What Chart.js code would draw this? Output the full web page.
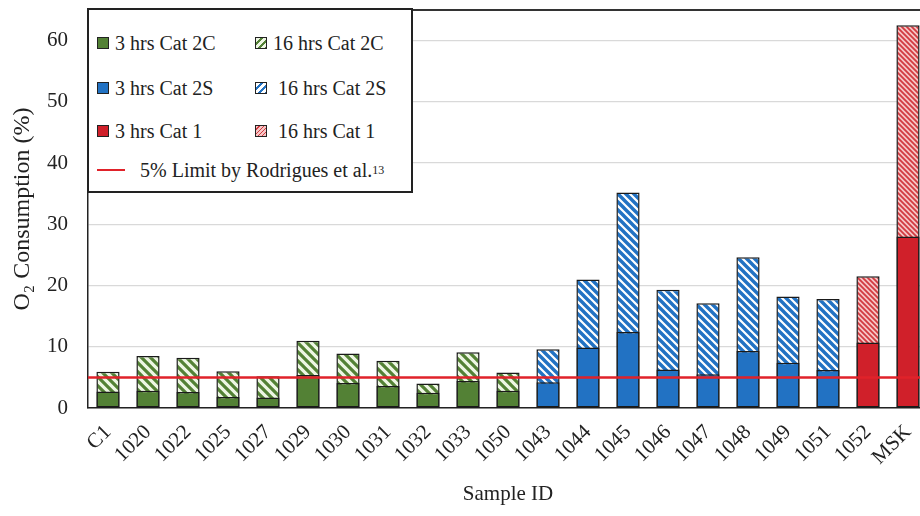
<!DOCTYPE html>
<html>
<head>
<meta charset="utf-8">
<script src="https://cdn.jsdelivr.net/npm/chart.js@4.4.1/dist/chart.umd.min.js"></script>
<style>
    html, body { margin: 0; padding: 0; background: #fff; overflow: hidden; }
    #wrap { position: relative; width: 930px; height: 516px; }
    #legend {
        position: absolute; left: 87px; top: 8px; width: 322px; height: 181px;
        border: 2px solid #222; background: #fff;
        font-family: "Liberation Serif", serif; font-size: 20px; color: #222;
    }
    .item { position: absolute; display: flex; align-items: center; white-space: nowrap; height: 24px; }
    .sw { width: 10px; height: 10px; border: 1.5px solid #222; margin-right: 6px; }
    .line { width: 28px; height: 2.5px; background: #e0222a; margin-right: 15px; }
    sup { font-size: 12px; vertical-align: 7px; }
</style>
</head>
<body>
<div id="wrap">
    <canvas id="chart"></canvas>
    <div id="legend">
        <div class="item" style="left:8px;top:21px"><span class="sw" style="background:#538135"></span>3 hrs Cat 2C</div>
        <div class="item" style="left:166px;top:21px"><span class="sw" style="background:repeating-linear-gradient(135deg,#eef6e4 0 3px,#538135 3px 5px)"></span>16 hrs Cat 2C</div>
        <div class="item" style="left:8px;top:66px"><span class="sw" style="background:#2272c3"></span>3 hrs Cat 2S</div>
        <div class="item" style="left:166px;top:66px"><span class="sw" style="background:repeating-linear-gradient(135deg,#fff 0 3px,#2272c3 3px 5px)"></span>&nbsp;16 hrs Cat 2S</div>
        <div class="item" style="left:8px;top:109px"><span class="sw" style="background:#d0202a"></span>3 hrs Cat 1</div>
        <div class="item" style="left:166px;top:109px"><span class="sw" style="background:repeating-linear-gradient(135deg,#f6c6c6 0 2px,#d23a40 2px 3px)"></span>&nbsp;16 hrs Cat 1</div>
        <div class="item" style="left:8px;top:148px"><span class="line"></span>5% Limit by Rodrigues et al.<sup>13</sup></div>
    </div>
</div>
<script>
// sample IDs along the x axis
const sampleIds = ['C1', '1020', '1022', '1025', '1027', '1029', '1030', '1031', '1032', '1033', '1050',
    '1043', '1044', '1045', '1046', '1047', '1048', '1049', '1051', '1052', 'MSK'];
// catalyst class of each sample
const catalyst = ['2C', '2C', '2C', '2C', '2C', '2C', '2C', '2C', '2C', '2C', '2C',
    '2S', '2S', '2S', '2S', '2S', '2S', '2S', '2S', '1', '1'];
// O2 consumption (%) after 3 hrs and 16 hrs
const o2At3hrs = [2.7, 2.8, 2.6, 1.8, 1.7, 5.4, 4.1, 3.6, 2.5, 4.4, 2.8,
    4.2, 9.9, 12.4, 6.3, 5.5, 9.3, 7.4, 6.2, 10.7, 28.0];
const o2At16hrs = [5.9, 8.5, 8.2, 6.0, 5.2, 11.0, 8.9, 7.7, 4.0, 9.1, 5.8,
    9.6, 21.0, 35.2, 19.3, 17.1, 24.6, 18.2, 17.8, 21.5, 62.5];
const yTicks = [0, 10, 20, 30, 40, 50, 60];
const LIMIT = 5;

const solidColors = { '2C': '#538135', '2S': '#2272c3', '1': '#d0202a' };

function makeHatch(bg, fg, size, lw) {
    const tile = document.createElement('canvas');
    tile.width = tile.height = size;
    const c = tile.getContext('2d');
    c.fillStyle = bg;
    c.fillRect(0, 0, size, size);
    c.strokeStyle = fg;
    c.lineWidth = lw;
    c.beginPath();
    for (const k of [-size, 0, size]) {
        c.moveTo(k - 2, -2);
        c.lineTo(k + size + 2, size + 2);
    }
    c.stroke();
    return c.createPattern(tile, 'repeat');
}

const hatchColors = {
    '2C': makeHatch('#eef6e4', '#538135', 9, 3.2),
    '2S': makeHatch('#ffffff', '#2272c3', 8, 3.4),
    '1': makeHatch('#f6c6c6', '#d23a40', 5, 1.8)
};

// red limit line + top frame line
const extrasPlugin = {
    id: 'extras',
    afterDatasetsDraw(chart) {
        const { ctx, chartArea, scales } = chart;
        const y = scales.y.getPixelForValue(LIMIT);
        ctx.save();
        ctx.strokeStyle = '#e0222a';
        ctx.lineWidth = 2.5;
        ctx.beginPath();
        ctx.moveTo(chartArea.left, y);
        ctx.lineTo(chartArea.right, y);
        ctx.stroke();
        ctx.strokeStyle = '#333';
        ctx.lineWidth = 2;
        ctx.beginPath();
        ctx.moveTo(chartArea.left, chartArea.top);
        ctx.lineTo(chartArea.right, chartArea.top);
        ctx.stroke();
        ctx.restore();
    }
};

const font = { family: '"Liberation Serif", serif', size: 21 };

new Chart(document.getElementById('chart'), {
    type: 'bar',
    data: {
        labels: sampleIds,
        datasets: [
            {
                label: '3 hrs',
                data: o2At3hrs,
                backgroundColor: catalyst.map(c => solidColors[c]),
                borderColor: '#1a1a1a',
                borderWidth: 1.5,
                borderSkipped: false,
                grouped: false,
                barPercentage: 0.58,
                categoryPercentage: 1
            },
            {
                label: '16 hrs',
                data: o2At16hrs,
                backgroundColor: catalyst.map(c => hatchColors[c]),
                borderColor: '#1a1a1a',
                borderWidth: 1.5,
                borderSkipped: false,
                grouped: false,
                barPercentage: 0.58,
                categoryPercentage: 1
            }
        ]
    },
    options: {
        responsive: true,
        maintainAspectRatio: false,
        animation: false,
        layout: { padding: { top: 10, right: 2, left: 0, bottom: 0 } },
        plugins: {
            legend: { display: false },
            tooltip: { enabled: false }
        },
        scales: {
            x: {
                grid: { display: false },
                border: { display: true, color: '#222', width: 1.5 },
                ticks: {
                    color: '#222', font: font, padding: 4,
                    minRotation: 45, maxRotation: 45, autoSkip: false
                },
                title: {
                    display: true, text: 'Sample ID', color: '#222', font: font,
                    padding: { top: 0, bottom: 9 }
                },
                afterFit: scale => {
                    scale.height = 108;
                    scale.paddingLeft = 0;
                    scale.paddingRight = 0;
                }
            },
            y: {
                min: 0,
                max: 65,
                grid: { color: '#d9d9d9', lineWidth: 1.2, drawTicks: false },
                border: { display: true, color: '#222', width: 1.5 },
                ticks: { color: '#222', font: font, padding: 20, stepSize: 10 },
                afterBuildTicks: scale => { scale.ticks = yTicks.map(v => ({ value: v })); },
                title: {
                    display: true, text: 'O₂ Consumption (%)', color: '#222',
                    font: { family: '"Liberation Serif", serif', size: 24 },
                    padding: { top: 8, bottom: 0 }
                },
                afterFit: scale => {
                    scale.width = 88;
                    scale.paddingTop = 0;
                    scale.paddingBottom = 0;
                }
            }
        }
    },
    plugins: [extrasPlugin]
});
</script>
</body>
</html>
